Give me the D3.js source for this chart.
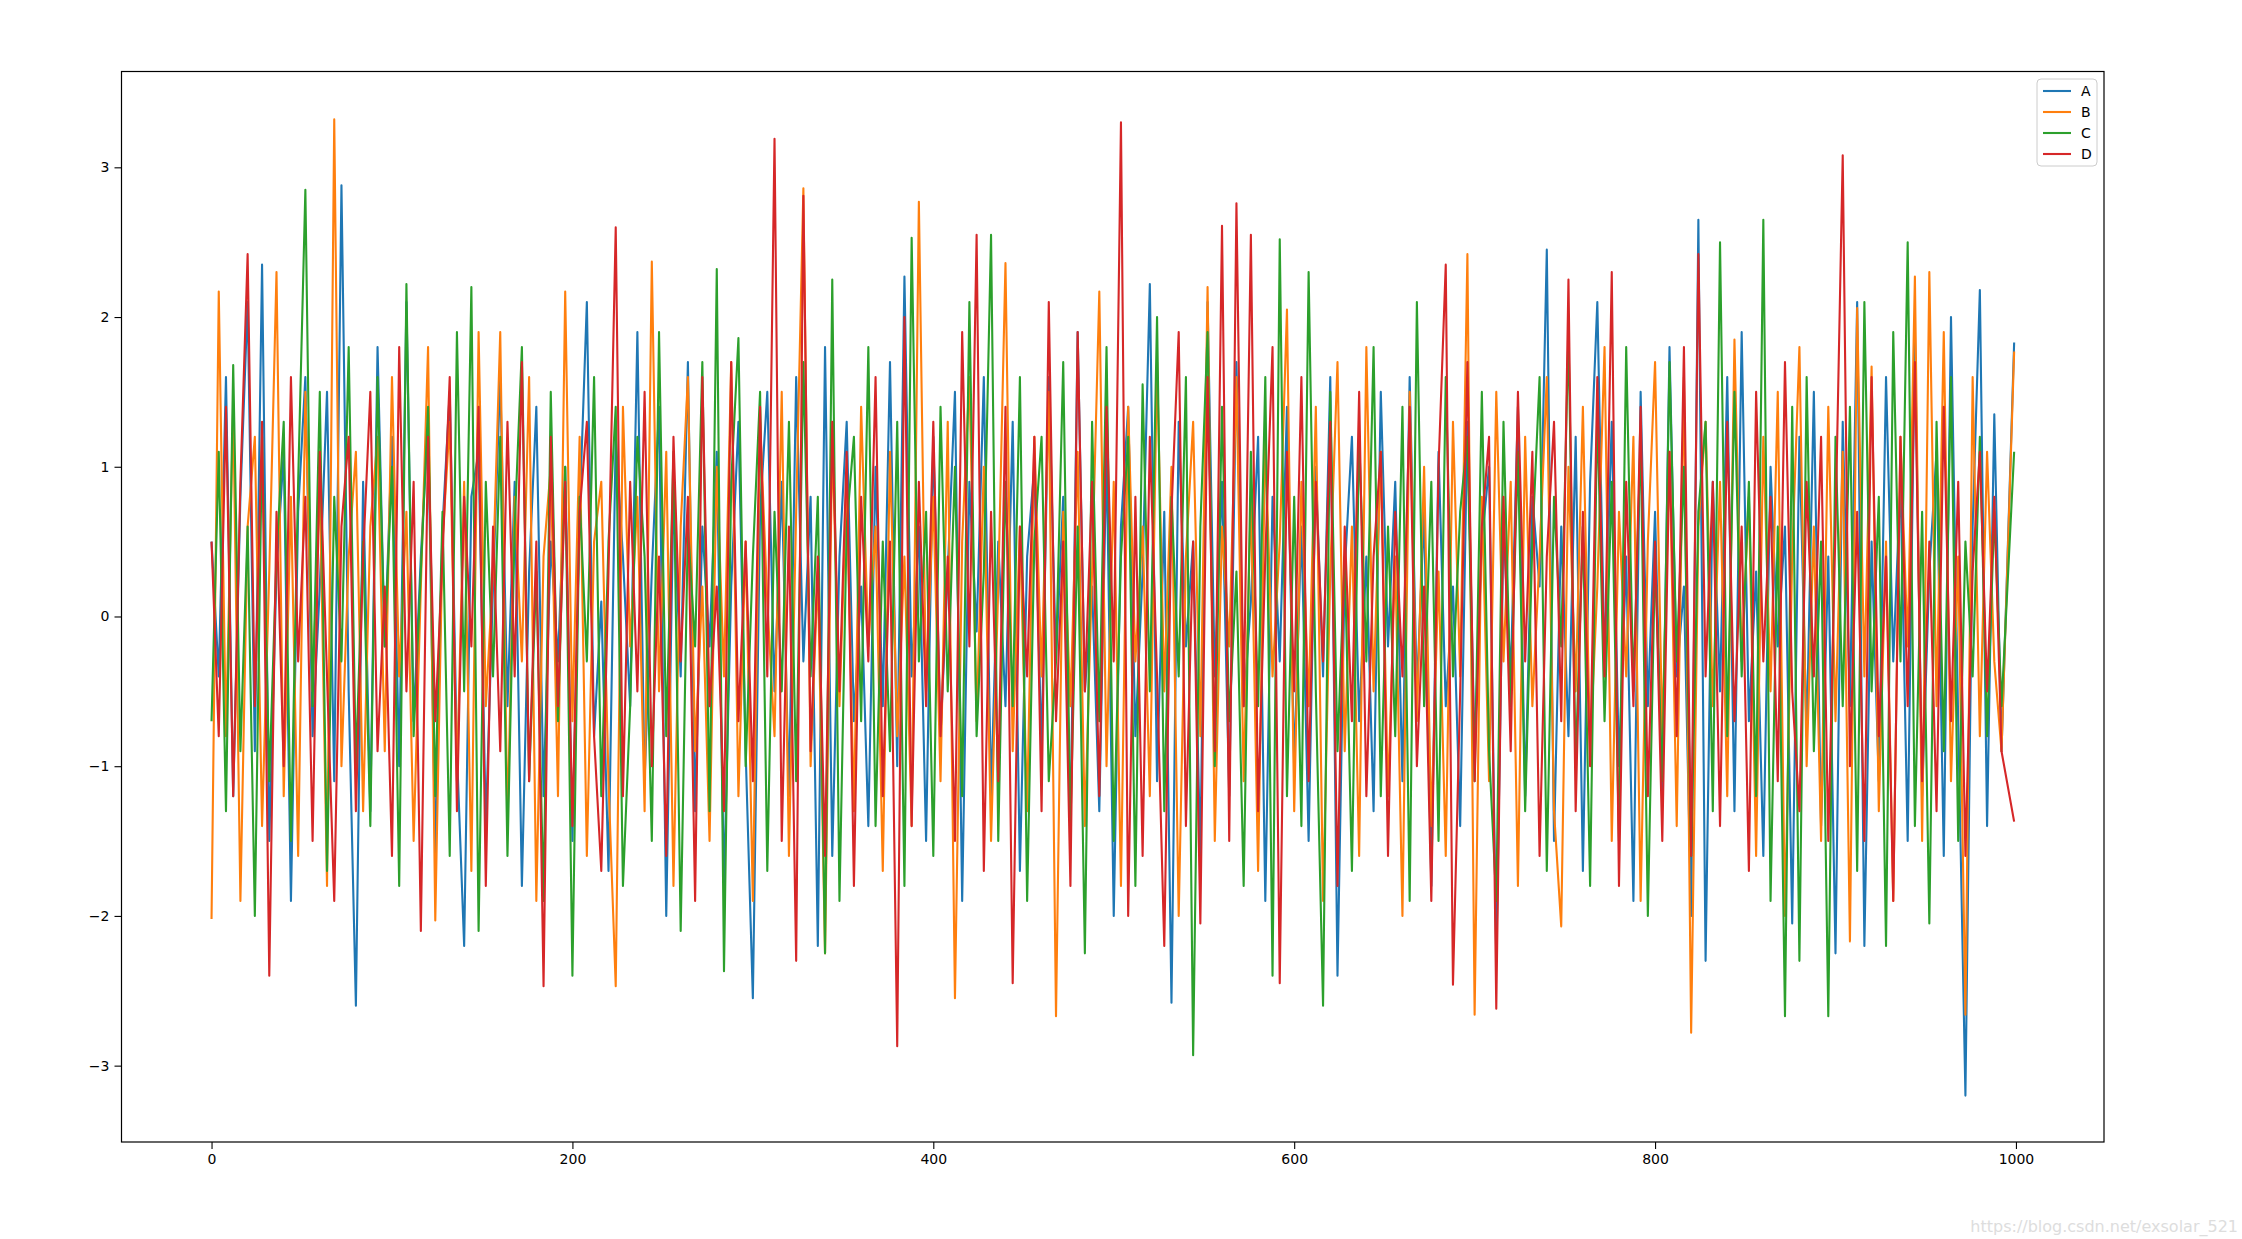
<!DOCTYPE html>
<html><head><meta charset="utf-8">
<script src="https://cdn.jsdelivr.net/npm/d3@7"></script>
<style>body{margin:0;background:#fff}svg{display:block}</style>
</head><body>
<svg id="c" width="2242" height="1239"></svg>
<script>
const seriesNames = ["A","B","C","D"];
const seriesColors = ["#1f77b4","#ff7f0e","#2ca02c","#d62728"];
const xTicks = [0,200,400,600,800,1000];
const yTicks = [-3,-2,-1,0,1,2,3];
const A = [0.5,-0.4,1.6,-1.2,0.8,2.1,-0.9,2.35,-1.5,0.3,
1.1,-1.9,0.7,1.6,-0.8,0.2,1.5,-1.1,2.88,-0.5,
-2.6,0.9,-1.3,1.8,-0.2,1.2,-1.0,2.1,-0.7,0.4,
1.3,-1.6,0.6,1.5,-0.9,-2.2,0.8,1.1,-1.4,0.2,
1.6,-0.6,0.9,-1.8,0.3,1.4,-1.2,0.5,-0.3,1.0,
-1.5,0.7,2.1,-0.8,0.1,-1.7,1.2,0.4,-0.6,1.9,
-1.1,0.3,1.4,-2.0,0.8,-0.4,1.7,-1.3,0.6,-0.2,
1.1,-1.8,0.2,1.3,-0.9,-2.55,0.7,1.5,-0.5,0.9,
-1.2,1.6,-0.3,0.8,-2.2,1.8,-1.6,0.4,1.3,-0.7,
0.2,-1.4,1.0,-0.6,1.7,-1.0,2.27,-0.4,0.6,-1.5,
1.2,-0.8,0.3,1.5,-1.9,0.9,-0.1,1.6,-1.2,0.5,
-0.6,1.3,-1.7,0.4,1.0,-0.9,1.6,-0.3,0.8,-1.4,
1.9,-0.5,0.2,-1.3,1.1,-2.0,0.6,1.4,-0.8,0.3,
2.22,-1.1,0.7,-2.58,1.3,-0.2,0.5,-1.6,2.1,-0.4,
0.9,-1.2,1.7,-0.6,0.1,1.2,-1.9,0.8,-0.3,1.4,
-1.0,0.6,-1.5,1.0,-0.4,1.6,-2.4,0.3,1.2,-0.7,
0.4,-1.3,1.5,-0.2,0.9,-1.1,1.6,-0.5,0.7,-1.8,
1.1,-0.6,0.2,-1.4,1.3,-0.9,0.5,1.0,-2.3,0.6,
-0.4,1.4,-1.2,0.8,0.2,2.45,-1.5,0.6,-0.8,1.2,
-1.7,0.9,2.1,-0.3,1.3,-1.0,0.4,-1.9,1.5,-0.6,
0.7,-1.2,1.8,-0.4,0.2,-2.0,2.65,-2.3,0.9,-0.5,
1.6,-1.3,1.9,-0.7,0.3,-1.6,1.0,-0.2,0.6,-2.05,
1.2,-0.8,1.5,-1.4,0.4,-2.25,1.3,-0.6,2.1,-2.2,
0.5,-1.1,1.6,-0.3,0.9,-1.5,1.9,-1.2,0.3,1.1,
-1.6,2.0,-0.7,-3.2,0.6,2.18,-1.4,1.35,-0.9,1.83];
const B = [-2.02,2.17,-0.8,1.4,-1.9,0.6,1.2,-1.4,0.3,2.3,
-1.2,0.8,-1.6,1.5,-0.5,0.9,-1.8,3.32,-1.0,0.4,
1.1,-1.3,0.6,1.2,-0.9,1.6,-0.4,0.7,-1.5,0.2,
1.8,-2.03,0.5,1.3,-1.1,0.9,-1.7,1.9,-0.6,0.3,
1.9,-1.4,0.8,-0.3,1.6,-1.9,0.4,1.0,-1.2,2.17,
-0.7,1.2,-1.6,0.5,0.9,-1.1,-2.47,1.4,-0.2,0.8,
-1.3,2.37,-0.5,1.1,-1.8,0.6,1.6,-0.9,0.2,-1.5,
1.0,-0.4,1.7,-1.2,0.5,-1.9,1.3,0.1,-0.8,1.5,
-1.6,0.7,2.86,-1.0,0.3,-2.25,1.2,-0.6,0.9,-1.3,
1.4,-0.2,0.6,-1.7,1.1,-0.8,0.4,-1.4,2.77,-0.5,
0.8,-1.1,1.3,-2.55,0.5,1.6,-0.7,1.0,-1.5,0.2,
2.36,-0.9,0.6,-1.3,1.2,-0.4,1.5,-2.67,0.7,-0.6,
1.1,-1.4,0.3,2.17,-1.0,0.9,-1.8,1.4,-0.3,0.6,
-1.2,1.7,-0.5,1.0,-2.0,0.4,1.3,-0.8,2.2,-1.5,
0.6,-0.2,1.6,-1.1,0.8,-1.7,1.2,-0.4,0.5,2.05,
-1.3,0.9,-0.6,1.4,-1.9,0.3,1.7,-0.9,0.6,-1.6,
1.8,-0.5,1.1,-1.2,0.4,-2.0,1.5,-0.7,1.0,-1.4,
0.3,-1.6,1.3,-0.4,2.42,-2.66,0.8,-1.1,1.5,-0.3,
0.9,-1.8,1.2,-0.6,0.4,1.6,-1.3,-2.07,1.0,-0.5,
1.4,-0.9,0.2,1.8,-1.5,0.7,-0.4,1.2,-1.9,0.5,
1.7,-0.8,1.1,-1.4,1.6,-2.78,0.6,1.3,-0.6,0.9,
-1.2,1.85,-0.3,0.8,-1.6,1.2,-0.5,1.5,-2.0,0.4,
1.8,-1.0,0.6,-1.5,1.4,-0.7,1.1,-2.17,2.06,-0.4,
1.67,-1.3,0.5,-1.9,1.2,-0.2,2.27,-1.5,2.3,-0.6,
1.9,-1.1,0.4,-2.66,1.6,-0.8,1.1,-0.3,-0.9,1.77];
const C = [-0.7,1.1,-1.3,1.68,-0.9,0.6,-2.0,1.2,-1.1,0.4,
1.3,-1.5,0.9,2.85,-0.6,1.5,-1.7,0.8,-0.3,1.8,
-1.0,0.5,-1.4,1.6,-0.2,1.0,-1.8,2.22,-0.8,0.3,
1.4,-1.2,0.7,-1.6,1.9,-0.5,2.2,-2.1,0.9,-0.4,
1.2,-1.6,0.6,1.8,-1.1,0.3,-1.9,1.5,-0.7,1.0,
-2.4,0.8,-0.3,1.6,-1.2,0.5,1.4,-1.8,-0.6,1.2,
0.4,-1.5,1.9,-0.8,1.1,-2.1,0.6,-0.2,1.7,-1.3,
2.32,-2.37,0.9,1.86,-1.0,0.4,1.5,-1.7,0.7,-0.5,
1.3,-1.1,1.7,-0.4,0.8,-2.25,2.25,-1.9,0.6,1.2,
-0.7,1.8,-1.4,0.5,-0.9,1.3,-1.8,2.53,-0.3,0.7,
-1.6,1.4,-0.5,1.0,-1.2,2.1,-0.8,0.3,2.55,-1.5,
0.9,-0.6,1.6,-1.9,0.5,1.2,-1.1,-0.3,1.7,-1.4,
0.6,-2.25,1.3,-0.7,1.8,-1.5,0.4,1.2,-1.8,1.55,
-0.5,2.0,-1.3,0.8,-0.4,1.6,-2.93,0.6,1.9,-1.0,
1.4,-0.7,0.3,-1.8,1.1,-0.6,1.6,-2.4,2.52,-1.2,
0.8,-1.4,2.3,-0.5,-2.6,1.5,-0.9,0.4,-1.7,1.2,
-0.3,1.8,-1.2,0.6,-0.8,1.4,-1.9,2.1,-0.6,0.9,
-1.5,1.6,-0.4,0.7,1.2,-1.1,1.5,-0.9,-1.9,1.3,
-0.6,1.1,-1.3,0.5,1.6,-1.7,0.8,-0.2,1.9,-1.0,
0.6,-1.8,1.4,-0.7,0.9,-1.5,1.8,-0.5,1.2,-2.0,
0.4,-1.1,1.7,-0.3,1.0,-1.6,0.7,1.3,-1.3,2.5,
-0.8,1.5,-0.4,0.9,-1.2,2.65,-1.9,0.6,-2.67,1.4,
-2.3,1.6,-0.9,0.5,-2.67,1.2,-0.6,1.4,-1.7,2.1,
-0.5,0.8,-2.2,1.9,-0.3,2.5,-1.4,0.7,-2.05,1.3,
-0.9,1.6,-1.5,0.5,-0.4,1.2,-0.8,0.7,-0.6,1.1];
const D = [0.5,-0.8,1.4,-1.2,0.9,2.42,-0.6,1.3,-2.4,0.7,
-1.0,1.6,-0.3,0.8,-1.5,1.1,-0.4,-1.9,0.6,1.2,
-1.3,0.4,1.5,-0.9,0.2,-1.6,1.8,-0.5,0.9,-2.1,
1.2,-0.7,0.4,1.6,-1.3,0.8,-0.2,1.4,-1.8,0.6,
-0.9,1.3,-0.4,1.7,-1.1,0.5,-2.47,1.2,-0.6,0.9,
-1.4,0.7,1.3,-0.8,-1.7,0.3,2.6,-1.2,0.9,-0.5,
1.5,-1.0,0.4,-1.6,1.2,-0.3,0.8,-1.9,1.6,-0.6,
0.2,-1.3,1.7,-0.7,0.5,-1.1,1.4,-0.4,3.19,-1.5,
0.6,-2.3,2.81,-0.9,0.4,-1.6,1.3,-0.5,1.1,-1.8,
0.8,-0.3,1.6,-1.2,0.5,-2.87,2.0,-1.4,0.9,-0.6,
1.3,-0.8,0.4,-1.5,1.9,-0.2,2.55,-1.7,0.7,-1.1,
1.4,-2.45,0.6,-0.4,1.2,-1.3,2.1,-0.7,0.5,-1.8,
1.9,-0.5,0.9,-1.2,1.4,-0.3,3.3,-2.0,0.8,-1.6,
1.2,-0.4,-2.2,0.7,1.9,-1.4,0.5,-2.05,1.6,-0.9,
2.61,-1.5,2.76,-0.6,2.55,-1.3,0.4,1.8,-2.45,1.1,
-0.5,1.6,-1.1,0.9,-0.3,1.3,-1.8,0.6,-0.7,1.5,
-1.2,0.4,1.1,-1.6,0.7,-0.4,1.4,-1.0,0.2,-1.9,
1.0,2.35,-2.46,-0.5,1.7,-1.1,0.6,1.2,-2.62,0.8,
-0.9,1.5,-0.3,1.1,-1.6,0.4,1.3,-0.7,2.25,-1.3,
0.7,-1.0,1.6,-0.4,2.3,-1.8,0.9,-0.6,1.4,-1.2,
0.5,-1.5,1.1,-0.8,1.8,-1.6,2.42,-0.4,0.9,-1.4,
1.3,-0.7,0.6,-1.7,1.5,-0.3,0.8,-1.1,1.7,-0.5,
-1.3,0.9,-0.4,1.2,-1.5,0.6,3.08,-1.0,0.7,-1.5,
1.6,-0.8,0.4,-1.9,1.2,-0.6,1.7,-1.1,0.5,-1.3,
1.4,-0.7,0.9,-1.6,0.3,1.1,-0.5,0.8,-0.9,-1.37];
const seriesValues = [A,B,C,D];
const xIndex = A.map((_,i)=> i===A.length-1 ? 999 : i*4);

const svg = d3.select("#c");
const L=121.5,R=2104,T=71.5,Bm=1142;
const x = d3.scaleLinear().domain([-49.9,1048.8]).range([L,R]);
const y = d3.scaleLinear().domain([-3.51,3.64]).range([Bm,T]);
const font = "'DejaVu Sans', sans-serif";

const g = svg.append("g");
seriesValues.forEach((vals,k)=>{
  const line = d3.line().x((d,i)=>x(xIndex[i])).y(d=>y(d));
  g.append("path").datum(vals).attr("d",line).attr("fill","none")
   .attr("stroke",seriesColors[k]).attr("stroke-width",2.1).attr("stroke-linejoin","round");
});
svg.append("rect").attr("x",L).attr("y",T).attr("width",R-L).attr("height",Bm-T)
  .attr("fill","none").attr("stroke","#000").attr("stroke-width",1.2);

const xa = svg.append("g").attr("transform",`translate(0,${Bm})`)
  .call(d3.axisBottom(x).tickValues(xTicks).tickSize(7).tickPadding(5).tickFormat(d3.format("d")));
const ya = svg.append("g").attr("transform",`translate(${L},0)`)
  .call(d3.axisLeft(y).tickValues(yTicks).tickSize(7).tickPadding(5).tickFormat(d=>d<0?"\u2212"+Math.abs(d):d));
[xa,ya].forEach(a=>{a.select(".domain").remove();
  a.selectAll("text").attr("font-family",font).attr("font-size",14).attr("fill","#000");
  a.selectAll("line").attr("stroke","#000").attr("stroke-width",1.1);});

const lg = svg.append("g").attr("transform","translate(2037,79)");
lg.append("rect").attr("width",60).attr("height",87).attr("rx",4).attr("fill","#fff")
  .attr("stroke","#ccc").attr("stroke-width",1);
seriesNames.forEach((n,k)=>{
  const yy=12+k*21;
  lg.append("line").attr("x1",6).attr("x2",34).attr("y1",yy).attr("y2",yy)
    .attr("stroke",seriesColors[k]).attr("stroke-width",2.1);
  lg.append("text").attr("x",44).attr("y",yy+5).text(n).attr("font-family",font).attr("font-size",14);
});
svg.append("text").attr("x",2238).attr("y",1232).attr("text-anchor","end")
  .attr("font-family",font).attr("font-size",16).attr("fill","#ddd").text("https://blog.csdn.net/exsolar_521");
</script>
</body></html>
